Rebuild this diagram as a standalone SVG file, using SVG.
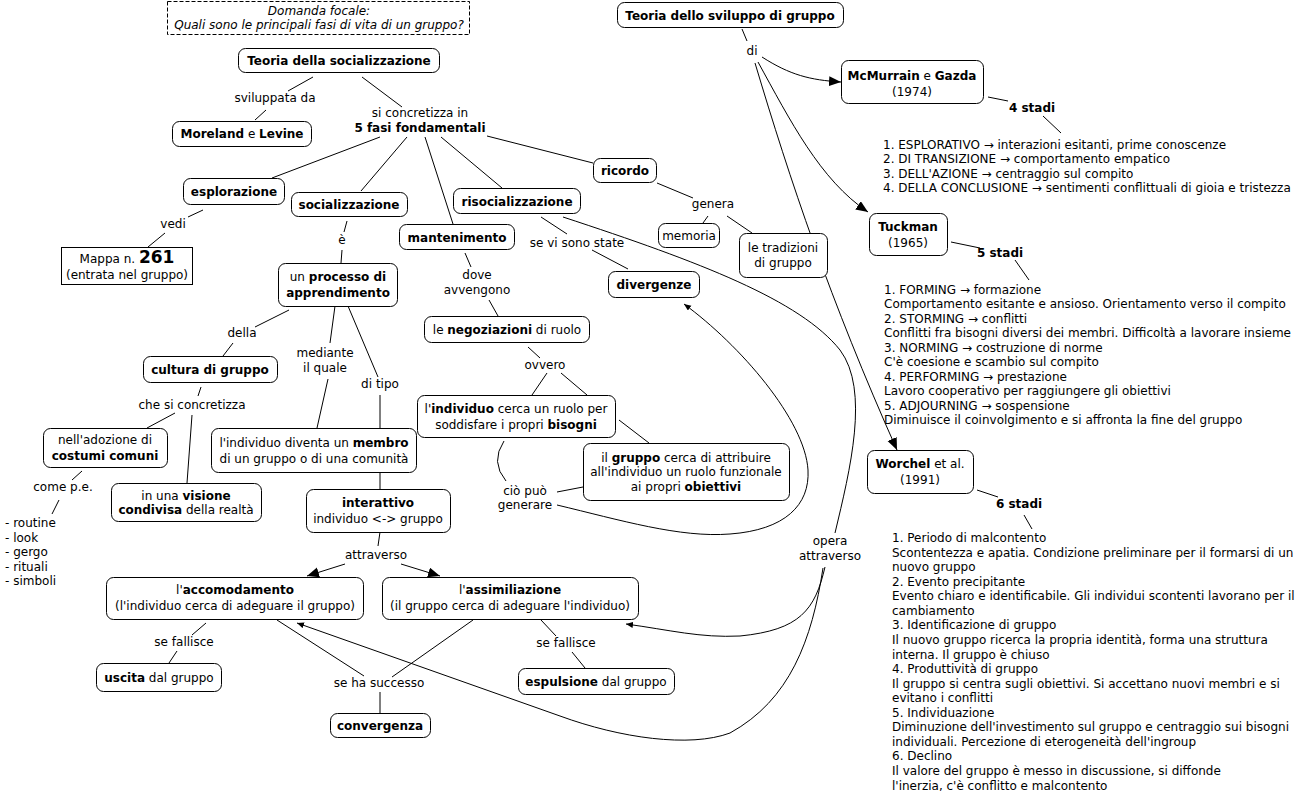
<svg xmlns="http://www.w3.org/2000/svg" width="1307" height="803" viewBox="0 0 1307 803">
<style>
.n{fill:#fff;stroke:#000;stroke-width:1}
.t{font-family:"DejaVu Sans",Verdana,sans-serif;font-size:12px;fill:#000;text-anchor:middle}
.s{text-anchor:start}
.b{font-weight:bold}
.i{font-style:italic}
.c{fill:none;stroke:#000;stroke-width:1}
</style>
<defs>
<marker id="ah" markerUnits="userSpaceOnUse" markerWidth="13" markerHeight="11" refX="12" refY="5" orient="auto"><path d="M0,0 L12,5 L0,10 z" fill="#000"/></marker>
<marker id="as" markerUnits="userSpaceOnUse" markerWidth="8" markerHeight="7" refX="7" refY="3" orient="auto"><path d="M0,0 L7,3 L0,6 z" fill="#000"/></marker>
</defs>
<rect width="1307" height="803" fill="#fff"/>
<g id="connectors" class="c">
<path d="M313,77 L288,91 M266,110 L255,120"/>
<path d="M362,77 L402,107"/>
<path d="M380,137 L272,178 M407,137 L361,191 M425,137 L453,224 M441,137 L502,188 M487,136 L593,163"/>
<path d="M203,210 L188,217 M165,233 L148,247"/>
<path d="M347,221 L344,232 M342,250 L341,263"/>
<path d="M289,310 L255,327 M233,343 L223,356"/>
<path d="M201,387 L198,396 M175,413 L147,428 M192,415 L187,483"/>
<path d="M82,471 L72,480 M59,500 L52,514"/>
<path d="M335,306 L330,343 M328,379 L317,428"/>
<path d="M348,306 L378,377 M380,395 L380,428"/>
<path d="M380,472 L380,489 M380,532 L378,546"/>
<path d="M345,564 L307,576" marker-end="url(#ah)"/>
<path d="M401,564 L440,576" marker-end="url(#ah)"/>
<path d="M206,623 L192,635 M177,651 L169,663"/>
<path d="M277,620 L364,676 M473,620 L392,677 M380,692 L380,713"/>
<path d="M541,620 L556,636 M572,652 L585,668"/>
<path d="M465,253 L471,267 M489,300 L498,316"/>
<path d="M528,347 L540,358 M547,373 L532,395 M561,373 L587,395"/>
<path d="M619,420 L649,443 M557,492 L583,487"/>
<path d="M504,441 Q490,462 506,481"/>
<path d="M557,505 C620,520 680,538 730,534 C785,530 810,505 808,470 C805,420 740,345 684,304" marker-end="url(#as)"/>
<path d="M541,217 L567,234 M592,250 L628,269"/>
<path d="M563,217 C700,262 800,300 840,350 C870,390 850,470 835,533"/>
<path d="M657,183 L693,198 M708,216 L703,223 M727,216 L752,233"/>
<path d="M742,29 L747,41"/>
<path d="M762,57 C790,75 810,80 841,82" marker-end="url(#ah)"/>
<path d="M758,62 C790,120 820,180 868,212" marker-end="url(#ah)"/>
<path d="M755,63 C790,180 830,300 897,450" marker-end="url(#ah)"/>
<path d="M988,97 L1008,101 M1043,116 L1061,133"/>
<path d="M951,242 L980,248 M1015,260 L1029,280"/>
<path d="M977,490 L998,497 M1024,515 L1032,529"/>
<path d="M825,567 C815,610 800,630 740,636 C700,638 670,630 626,624" marker-end="url(#as)"/>
<path d="M823,568 C812,640 790,700 730,733 C690,748 620,738 560,716 L297,623" marker-end="url(#as)"/>
</g>
<g id="n-focal"><rect x="167.5" y="1.5" width="302" height="33" fill="#fff" stroke="#000" stroke-dasharray="4,2"/><text class="t i" x="319" y="15">Domanda focale:</text><text class="t i" x="319" y="29">Quali sono le principali fasi di vita di un gruppo?</text></g>
<g id="n-teoria-soc"><rect class="n" x="238.5" y="48.5" width="201" height="24" rx="7"/><text class="t b" x="339" y="64.5">Teoria della socializzazione</text></g>
<g id="l-sviluppata"><text class="t" x="275" y="102">sviluppata da</text></g>
<g id="n-moreland"><rect class="n" x="172.5" y="121.5" width="139" height="25" rx="7"/><text class="t" x="242" y="138"><tspan class="b">Moreland</tspan> e <tspan class="b">Levine</tspan></text></g>
<g id="l-concretizza"><text class="t" x="420" y="117">si concretizza in</text><text class="t b" x="420" y="132">5 fasi fondamentali</text></g>
<g id="n-esplorazione"><rect class="n" x="183.5" y="178.5" width="101" height="26" rx="7"/><text class="t b" x="234" y="196">esplorazione</text></g>
<g id="n-socializzazione"><rect class="n" x="291.5" y="192.5" width="116" height="24" rx="7"/><text class="t b" x="349" y="208.5">socializzazione</text></g>
<g id="n-mantenimento"><rect class="n" x="399.5" y="224.5" width="115" height="25" rx="7"/><text class="t b" x="457" y="241.5">mantenimento</text></g>
<g id="n-risocializzazione"><rect class="n" x="453.5" y="188.5" width="127" height="25" rx="7"/><text class="t b" x="517" y="205.5">risocializzazione</text></g>
<g id="n-ricordo"><rect class="n" x="593.5" y="158.5" width="63" height="24" rx="7"/><text class="t b" x="625" y="174.5">ricordo</text></g>
<g id="l-vedi"><text class="t" x="173" y="228">vedi</text></g>
<g id="n-mappa"><rect class="n" x="61.5" y="247.5" width="131" height="37"/><text class="t" x="127" y="262.5">Mappa n. <tspan class="b" style="font-size:17px">261</tspan></text><text class="t" x="127" y="278.5">(entrata nel gruppo)</text></g>
<g id="l-e"><text class="t" x="342" y="244">è</text></g>
<g id="n-processo"><rect class="n" x="278.5" y="263.5" width="119" height="43" rx="7"/><text class="t" x="338" y="281">un <tspan class="b">processo di</tspan></text><text class="t b" x="338" y="296.5">apprendimento</text></g>
<g id="l-della"><text class="t" x="242" y="337">della</text></g>
<g id="n-cultura"><rect class="n" x="143.5" y="356.5" width="134" height="26" rx="7"/><text class="t b" x="210" y="373.5">cultura di gruppo</text></g>
<g id="l-chesi"><text class="t" x="192" y="409">che si concretizza</text></g>
<g id="n-adozione"><rect class="n" x="43.5" y="428.5" width="124" height="39" rx="7"/><text class="t" x="105" y="443.5">nell'adozione di</text><text class="t b" x="105" y="459.5">costumi comuni</text></g>
<g id="l-come"><text class="t" x="63" y="491">come p.e.</text></g>
<g id="t-elenco"><text class="t s" x="5" y="527">- routine</text><text class="t s" x="5" y="541.5">- look</text><text class="t s" x="5" y="556">- gergo</text><text class="t s" x="5" y="570.5">- rituali</text><text class="t s" x="5" y="585">- simboli</text></g>
<g id="n-visione"><rect class="n" x="111.5" y="483.5" width="150" height="38" rx="7"/><text class="t" x="186" y="499.5">in una <tspan class="b">visione</tspan></text><text class="t" x="186" y="514">
<tspan class="b">condivisa</tspan> della realtà</text></g>
<g id="l-mediante"><text class="t" x="325" y="357">mediante</text><text class="t" x="325" y="371.5">il quale</text></g>
<g id="l-ditipo"><text class="t" x="380" y="387.5">di tipo</text></g>
<g id="n-membro"><rect class="n" x="211.5" y="428.5" width="205" height="44" rx="7"/><text class="t" x="314" y="447">l'individuo diventa un <tspan class="b">membro</tspan></text><text class="t" x="314" y="462.5">di un gruppo o di una comunità</text></g>
<g id="n-interattivo"><rect class="n" x="306.5" y="489.5" width="144" height="43" rx="7"/><text class="t b" x="378" y="507">interattivo</text><text class="t" x="378" y="522.5">individuo &lt;-&gt; gruppo</text></g>
<g id="l-attraverso"><text class="t" x="376" y="559">attraverso</text></g>
<g id="n-accomodamento"><rect class="n" x="106.5" y="577.5" width="257" height="42" rx="7"/><text class="t" x="235" y="594">l'<tspan class="b">accomodamento</tspan></text><text class="t" x="235" y="609.5">(l'individuo cerca di adeguare il gruppo)</text></g>
<g id="n-assimiliazione"><rect class="n" x="382.5" y="577.5" width="256" height="42" rx="7"/><text class="t" x="510" y="594">l'<tspan class="b">assimiliazione</tspan></text><text class="t" x="510" y="609.5">(il gruppo cerca di adeguare l'individuo)</text></g>
<g id="l-fallisce1"><text class="t" x="184" y="645.5">se fallisce</text></g>
<g id="n-uscita"><rect class="n" x="96.5" y="663.5" width="125" height="28" rx="7"/><text class="t" x="159" y="681.5"><tspan class="b">uscita</tspan> dal gruppo</text></g>
<g id="l-successo"><text class="t" x="379" y="686.5">se ha successo</text></g>
<g id="n-convergenza"><rect class="n" x="330.5" y="713.5" width="100" height="24" rx="7"/><text class="t b" x="380" y="729.5">convergenza</text></g>
<g id="l-fallisce2"><text class="t" x="566" y="646.5">se fallisce</text></g>
<g id="n-espulsione"><rect class="n" x="518.5" y="668.5" width="156" height="26" rx="7"/><text class="t" x="596" y="685.5"><tspan class="b">espulsione</tspan> dal gruppo</text></g>
<g id="l-dove"><text class="t" x="477" y="278.5">dove</text><text class="t" x="477" y="293.5">avvengono</text></g>
<g id="n-negoziazioni"><rect class="n" x="424.5" y="316.5" width="165" height="26" rx="7"/><text class="t" x="507" y="333.5">le <tspan class="b">negoziazioni</tspan> di ruolo</text></g>
<g id="l-ovvero"><text class="t" x="545" y="368.5">ovvero</text></g>
<g id="n-individuo"><rect class="n" x="417.5" y="395.5" width="198" height="42" rx="7"/><text class="t" x="516" y="413">l'<tspan class="b">individuo</tspan> cerca un ruolo per</text><text class="t" x="516" y="428.5">soddisfare i propri <tspan class="b">bisogni</tspan></text></g>
<g id="n-gruppo"><rect class="n" x="583.5" y="443.5" width="206" height="57" rx="7"/><text class="t" x="686" y="461.5">il <tspan class="b">gruppo</tspan> cerca di attribuire</text><text class="t" x="686" y="476">all'individuo un ruolo funzionale</text><text class="t" x="686" y="490.5">ai propri <tspan class="b">obiettivi</tspan></text></g>
<g id="l-cio"><text class="t" x="525" y="494.5">ciò può</text><text class="t" x="525" y="509">generare</text></g>
<g id="l-sevi"><text class="t" x="577" y="246.5">se vi sono state</text></g>
<g id="n-divergenze"><rect class="n" x="608.5" y="271.5" width="91" height="26" rx="7"/><text class="t b" x="654" y="288.5">divergenze</text></g>
<g id="l-genera"><text class="t" x="713" y="207.5">genera</text></g>
<g id="n-memoria"><rect class="n" x="658.5" y="223.5" width="61" height="24" rx="7"/><text class="t" x="689" y="240">memoria</text></g>
<g id="n-tradizioni"><rect class="n" x="739.5" y="233.5" width="88" height="44" rx="7"/><text class="t" x="783" y="251.5">le tradizioni</text><text class="t" x="783" y="266.5">di gruppo</text></g>
<g id="n-teoria-svil"><rect class="n" x="617.5" y="2.5" width="226" height="25" rx="7"/><text class="t b" x="730" y="19.5">Teoria dello sviluppo di gruppo</text></g>
<g id="l-di"><text class="t" x="752" y="55">di</text></g>
<g id="n-mcmurrain"><rect class="n" x="841.5" y="60.5" width="142" height="43" rx="7"/><text class="t" x="912" y="80"><tspan class="b">McMurrain</tspan> e <tspan class="b">Gazda</tspan></text><text class="t" x="912" y="95.5">(1974)</text></g>
<g id="l-4stadi"><text class="t b" x="1032" y="111.5">4 stadi</text></g>
<g id="t-4stadi"><text class="t s" x="883" y="148.5">1. ESPLORATIVO → interazioni esitanti, prime conoscenze</text><text class="t s" x="883" y="163">2. DI TRANSIZIONE → comportamento empatico</text><text class="t s" x="883" y="177.5">3. DELL'AZIONE → centraggio sul compito</text><text class="t s" x="883" y="192">4. DELLA CONCLUSIONE → sentimenti conflittuali di gioia e tristezza</text></g>
<g id="n-tuckman"><rect class="n" x="869.5" y="213.5" width="78" height="42" rx="7"/><text class="t b" x="908" y="231">Tuckman</text><text class="t" x="908" y="246.5">(1965)</text></g>
<g id="l-5stadi"><text class="t b" x="1000" y="256.5">5 stadi</text></g>
<g id="t-5stadi"><text class="t s" x="884" y="293.5">1. FORMING → formazione</text><text class="t s" x="884" y="308">Comportamento esitante e ansioso. Orientamento verso il compito</text><text class="t s" x="884" y="322.5">2. STORMING → conflitti</text><text class="t s" x="884" y="337">Conflitti fra bisogni diversi dei membri. Difficoltà a lavorare insieme</text><text class="t s" x="884" y="351.5">3. NORMING → costruzione di norme</text><text class="t s" x="884" y="366">C'è coesione e scambio sul compito</text><text class="t s" x="884" y="380.5">4. PERFORMING → prestazione</text><text class="t s" x="884" y="395">Lavoro cooperativo per raggiungere gli obiettivi</text><text class="t s" x="884" y="409.5">5. ADJOURNING → sospensione</text><text class="t s" x="884" y="424">Diminuisce il coinvolgimento e si affronta la fine del gruppo</text></g>
<g id="n-worchel"><rect class="n" x="867.5" y="450.5" width="106" height="43" rx="7"/><text class="t" x="920" y="468"><tspan class="b">Worchel</tspan> et al.</text><text class="t" x="920" y="483.5">(1991)</text></g>
<g id="l-6stadi"><text class="t b" x="1019" y="507.5">6 stadi</text></g>
<g id="t-6stadi"><text class="t s" x="892" y="542">1. Periodo di malcontento</text><text class="t s" x="892" y="556.6">Scontentezza e apatia. Condizione preliminare per il formarsi di un</text><text class="t s" x="892" y="571.1">nuovo gruppo</text><text class="t s" x="892" y="585.7">2. Evento precipitante</text><text class="t s" x="892" y="600.2">Evento chiaro e identificabile. Gli individui scontenti lavorano per il</text><text class="t s" x="892" y="614.8">cambiamento</text><text class="t s" x="892" y="629.4">3. Identificazione di gruppo</text><text class="t s" x="892" y="643.9">Il nuovo gruppo ricerca la propria identità, forma una struttura</text><text class="t s" x="892" y="658.5">interna. Il gruppo è chiuso</text><text class="t s" x="892" y="673">4. Produttività di gruppo</text><text class="t s" x="892" y="687.6">Il gruppo si centra sugli obiettivi. Si accettano nuovi membri e si</text><text class="t s" x="892" y="702.2">evitano i conflitti</text><text class="t s" x="892" y="716.7">5. Individuazione</text><text class="t s" x="892" y="731.3">Diminuzione dell'investimento sul gruppo e centraggio sui bisogni</text><text class="t s" x="892" y="745.8">individuali. Percezione di eterogeneità dell'ingroup</text><text class="t s" x="892" y="760.4">6. Declino</text><text class="t s" x="892" y="775">Il valore del gruppo è messo in discussione, si diffonde</text><text class="t s" x="892" y="789.5">l'inerzia, c'è conflitto e malcontento</text></g>
<g id="l-opera"><text class="t" x="830" y="545">opera</text><text class="t" x="830" y="559.5">attraverso</text></g>
</svg>
